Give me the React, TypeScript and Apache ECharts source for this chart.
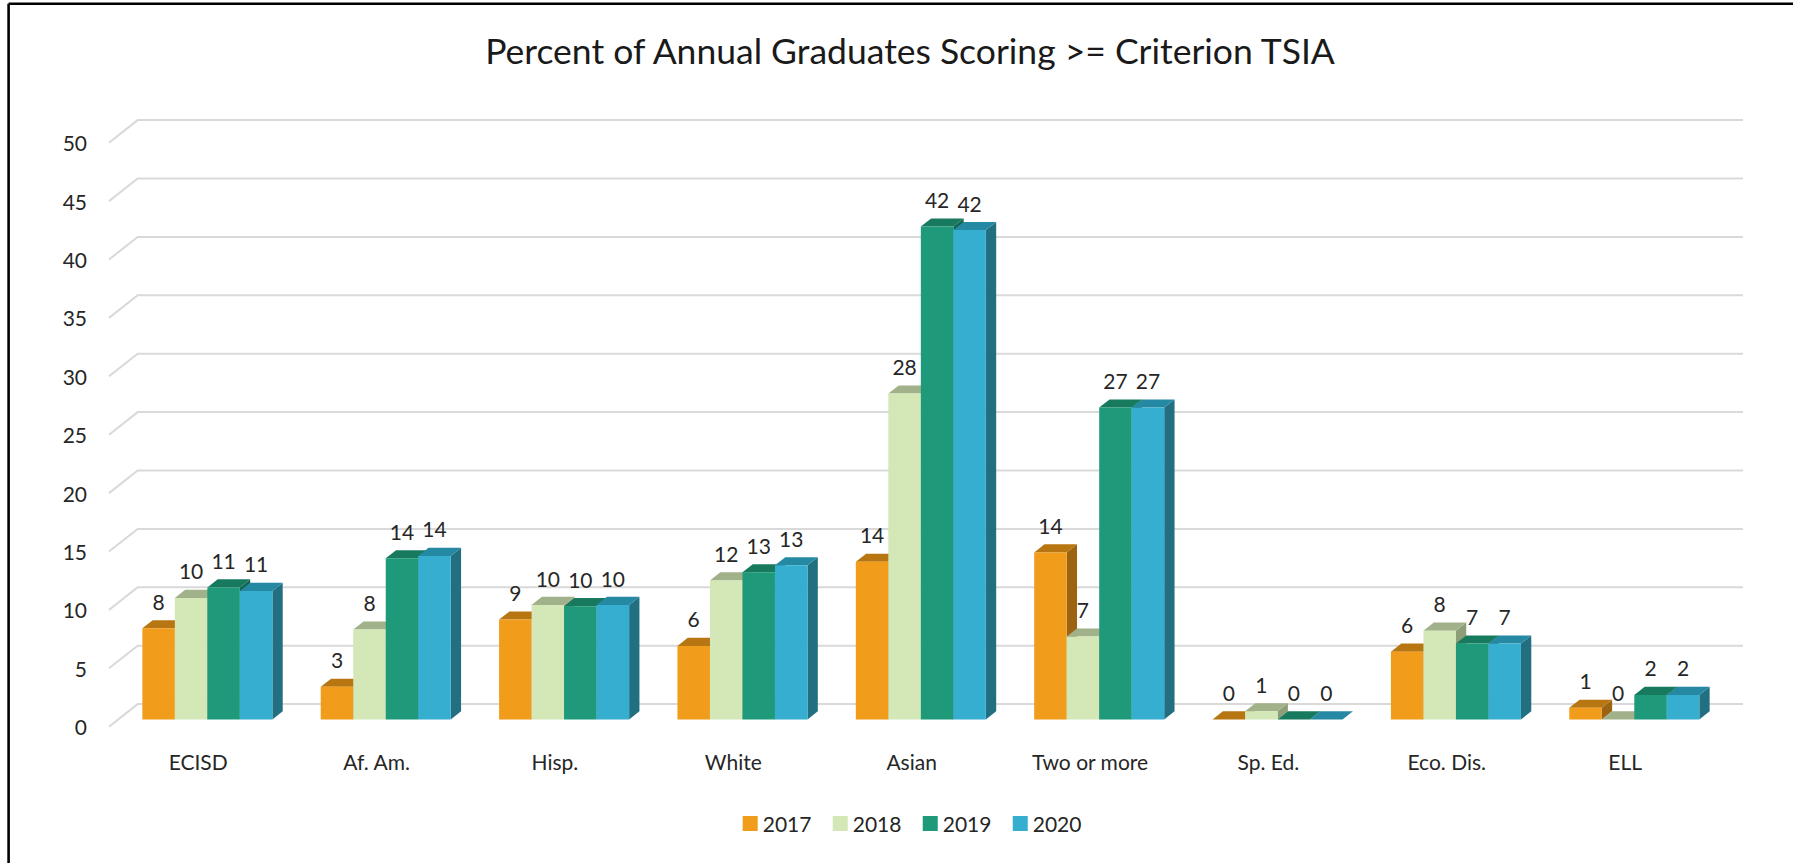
import React, { useEffect, useRef } from "react";
import * as echarts from "echarts";

const categories = ["ECISD", "Af. Am.", "Hisp.", "White", "Asian", "Two or more", "Sp. Ed.", "Eco. Dis.", "ELL"];
const years = ["2017", "2018", "2019", "2020"];
const values2017 = [7.8, 2.8, 8.55, 6.3, 13.5, 14.3, 0, 5.8, 1.0];
const values2018 = [10.4, 7.7, 9.8, 11.9, 27.9, 7.1, 0.7, 7.6, 0];
const values2019 = [11.3, 13.8, 9.7, 12.6, 42.2, 26.7, 0, 6.5, 2.1];
const values2020 = [11.0, 14.0, 9.8, 13.2, 41.9, 26.7, 0, 6.5, 2.1];
const seriesValues = [values2017, values2018, values2019, values2020];
const yTicks = [0, 5, 10, 15, 20, 25, 30, 35, 40, 45, 50];

const TITLE = "Percent of Annual Graduates Scoring >= Criterion TSIA";
const FONT = 'Lato, "Noto Sans", sans-serif';
const TEXT = "#262626";

const frontColors = ["#F29C1B", "#D3E7B7", "#1E9A7A", "#36AED0"];
const topColors = ["#B87612", "#A1B18A", "#177A5F", "#2589A4"];
const sideColors = ["#9C6411", "#8E9F78", "#136650", "#226F82"];

// 3D geometry (pixels)
const WALL_DX = 28.7;
const WALL_DY = -22.6;
const FRONT_FRAC = 0.32;
const DEPTH_FRAC = 0.36;
const GROUP_FRAC = 0.729;

function barGeom(params: any, api: any, yearIdx: number) {
  const cat = api.value(0);
  const v = api.value(1);
  const base = api.coord([cat, 0]);
  const top = api.coord([cat, v]);
  const band = api.size([1, 0])[0];
  const groupW = band * GROUP_FRAC;
  const bw = groupW / 4;
  const fx = WALL_DX * FRONT_FRAC;
  const fy = WALL_DY * FRONT_FRAC;
  const x0 = base[0] - groupW / 2 + yearIdx * bw + fx;
  const yb = base[1] + fy;
  const yt = top[1] + fy;
  return { x0, yb, yt, bw, v };
}

function makeBarRenderer(yearIdx: number) {
  return (params: any, api: any) => {
    const { x0, yb, yt, bw } = barGeom(params, api, yearIdx);
    const dx = WALL_DX * DEPTH_FRAC;
    const dy = WALL_DY * DEPTH_FRAC;
    return {
      type: "group",
      children: [
        {
          type: "polygon",
          shape: { points: [[x0 + bw, yt], [x0 + bw + dx, yt + dy], [x0 + bw + dx, yb + dy], [x0 + bw, yb]] },
          style: { fill: sideColors[yearIdx] },
        },
        {
          type: "polygon",
          shape: { points: [[x0, yt], [x0 + bw, yt], [x0 + bw + dx, yt + dy], [x0 + dx, yt + dy]] },
          style: { fill: topColors[yearIdx] },
        },
        {
          type: "rect",
          shape: { x: x0, y: yt, width: bw, height: Math.max(0, yb - yt) },
          style: { fill: frontColors[yearIdx] },
        },
      ],
    };
  };
}

export default function App() {
  const ref = useRef<HTMLDivElement>(null);

  useEffect(() => {
    document.body.style.margin = "0";
    if (!ref.current) return;
    const chart = echarts.init(ref.current, null, { renderer: "svg" });

    const barSeries = years.map((year, yi) => ({
      type: "custom",
      name: year,
      coordinateSystem: "cartesian2d",
      z: 3,
      itemStyle: { color: frontColors[yi] },
      data: seriesValues[yi].map((v, ci) => [ci, v]),
      renderItem: makeBarRenderer(yi),
    }));

    const labelData: number[][] = [];
    seriesValues.forEach((vals, yi) => vals.forEach((v, ci) => labelData.push([ci, v, yi])));

    const option: any = {
      animation: false,
      backgroundColor: "#ffffff",
      title: {
        text: TITLE,
        left: 910,
        textAlign: "center",
        top: 32,
        padding: 0,
        textStyle: { fontSize: 35.5, fontWeight: "normal", color: "#1a1a1a", fontFamily: FONT },
      },
      legend: {
        data: years.map((y, i) => ({ name: y, itemStyle: { color: frontColors[i] } })),
        left: 742.7,
        top: 813,
        padding: 0,
        icon: "rect",
        itemWidth: 15,
        itemHeight: 15,
        itemGap: 21.3,
        selectedMode: false,
        textStyle: { fontSize: 21, color: TEXT, fontFamily: FONT },
      },
      grid: {
        left: 109,
        top: 142.7,
        width: 1605.3,
        height: 584,
        containLabel: false,
        outerBoundsMode: "none",
      },
      xAxis: {
        type: "category",
        data: categories,
        axisLine: { show: false },
        axisTick: { show: false },
        splitLine: { show: false },
        axisLabel: { fontSize: 21, color: TEXT, fontFamily: FONT, margin: 24, interval: 0 },
      },
      yAxis: {
        type: "value",
        min: 0,
        max: 50,
        interval: 5,
        axisLine: { show: false },
        axisTick: { show: false },
        splitLine: { show: false },
        axisLabel: { fontSize: 21, color: TEXT, fontFamily: FONT, margin: 22 },
      },
      graphic: [
        { type: "line", shape: { x1: 8.6, y1: 3.8, x2: 1793, y2: 3.8 }, style: { stroke: "#000", lineWidth: 2.4 } },
        { type: "line", shape: { x1: 8.6, y1: 3.8, x2: 8.6, y2: 863 }, style: { stroke: "#000", lineWidth: 2.6 } },
      ],
      series: [
        {
          type: "custom",
          name: "gridlines",
          coordinateSystem: "cartesian2d",
          z: 1,
          silent: true,
          data: yTicks.map((t) => [0, t]),
          renderItem: (params: any, api: any) => {
            const cs = params.coordSys;
            const y = api.coord([0, api.value(1)])[1];
            return {
              type: "polyline",
              shape: {
                points: [
                  [cs.x, y],
                  [cs.x + WALL_DX, y + WALL_DY],
                  [cs.x + cs.width + WALL_DX, y + WALL_DY],
                ],
              },
              style: { stroke: "#D9D9D9", lineWidth: 2, fill: null },
            };
          },
        },
        {
          type: "custom",
          name: "labels",
          coordinateSystem: "cartesian2d",
          z: 2,
          silent: true,
          data: labelData,
          renderItem: (params: any, api: any) => {
            const yi = api.value(2);
            const { x0, yt, bw, v } = barGeom(params, api, yi);
            return {
              type: "text",
              x: x0 + bw / 2,
              y: yt - 27,
              style: {
                text: String(Math.round(v)),
                fontSize: 21,
                fontFamily: FONT,
                fill: TEXT,
                align: "center",
                verticalAlign: "middle",
              },
            };
          },
        },
        ...barSeries,
      ],
    };

    chart.setOption(option);
    return () => chart.dispose();
  }, []);

  return <div ref={ref} style={{ width: 1793, height: 863 }} />;
}
